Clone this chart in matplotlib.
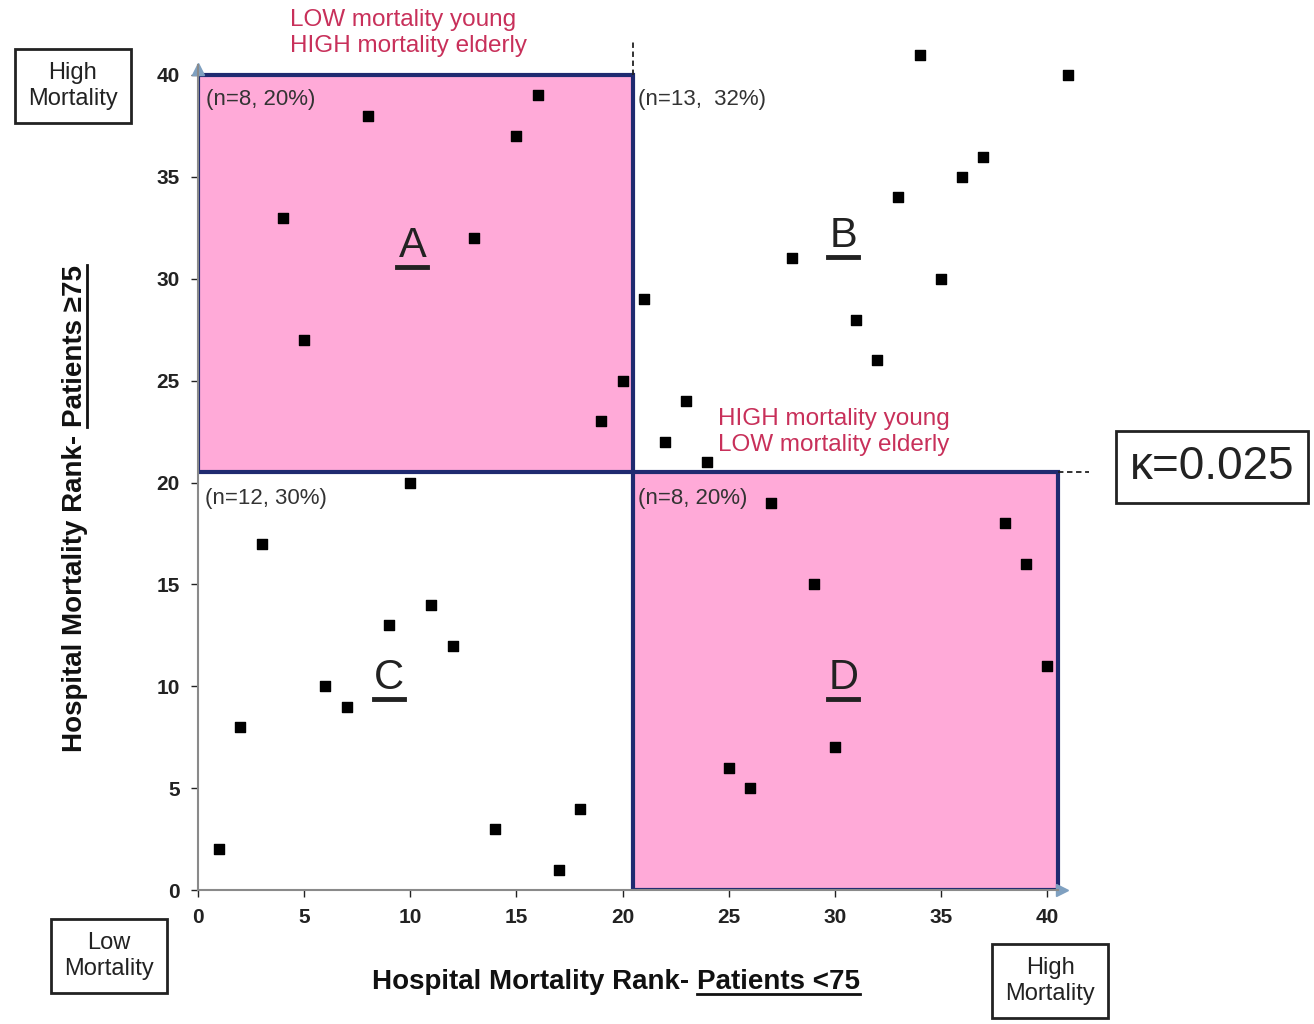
import matplotlib
matplotlib.use("Agg")
import matplotlib.pyplot as plt
from matplotlib.patches import Rectangle
from matplotlib.lines import Line2D

plt.rcParams['font.family'] = ['Liberation Sans', 'DejaVu Sans']

# Data: (rank <75, rank >=75)
x_young = [4, 8, 5, 13, 15, 16, 19, 20,
           21, 22, 23, 24, 28, 31, 32, 33, 34, 35, 36, 37, 41,
           1, 2, 3, 6, 7, 9, 10, 11, 12, 14, 17, 18,
           27, 29, 30, 25, 26, 38, 39, 40]
y_elderly = [33, 38, 27, 32, 37, 39, 23, 25,
             29, 22, 24, 21, 31, 28, 26, 34, 41, 30, 35, 36, 40,
             2, 8, 17, 10, 9, 13, 20, 14, 12, 3, 1, 4,
             19, 15, 7, 6, 5, 18, 16, 11]
ticks = [0, 5, 10, 15, 20, 25, 30, 35, 40]
quadrant_names = ['A', 'B', 'C', 'D']
quadrant_counts = ['(n=8, 20%)', '(n=13,  32%)', '(n=12, 30%)', '(n=8, 20%)']
kappa_text = 'κ=0.025'

W, H = 1314, 1024
fig = plt.figure(figsize=(W / 100, H / 100), dpi=100)
ax = fig.add_axes([198/W, 134/H, 43*21.225/W, 43*20.375/H])
ax.set_xlim(0, 43)
ax.set_ylim(0, 43)

pink = '#FFAAD8'
navy = '#1F2A70'
ax.add_patch(Rectangle((0, 20.5), 20.5, 19.5, facecolor=pink, edgecolor=navy, lw=3, zorder=1))
ax.add_patch(Rectangle((20.5, 0), 20.0, 20.5, facecolor=pink, edgecolor=navy, lw=3, zorder=1))
ax.plot([20.5, 20.5], [40, 41.6], ls=(0, (3, 2)), color='#222222', lw=1.3, clip_on=False)
ax.plot([40.5, 42.0], [20.5, 20.5], ls=(0, (3, 2)), color='#222222', lw=1.3, clip_on=False)

ax.scatter(x_young, y_elderly, marker='s', s=60, color='black', zorder=5, clip_on=False)

for s in ['top', 'right']:
    ax.spines[s].set_visible(False)
for s in ['left', 'bottom']:
    ax.spines[s].set_color('#8a8a8a')
    ax.spines[s].set_linewidth(1.5)
    ax.spines[s].set_bounds(0, 40.5)
ax.plot([40.7], [0], marker='>', color='#7fa0c0', markersize=8, clip_on=False)
ax.plot([0], [40.3], marker='^', color='#7fa0c0', markersize=8, clip_on=False)

ax.set_xticks(ticks)
ax.set_yticks(ticks)
ax.set_xticklabels([str(t) for t in ticks])
ax.set_yticklabels([str(t) for t in ticks])
ax.tick_params(axis='both', labelsize=15, colors='#222222', length=5, width=1, pad=8)
for lbl in ax.get_xticklabels() + ax.get_yticklabels():
    lbl.set_fontweight('bold')

def px(x, y):
    return (x / W, 1 - y / H)

# Axis labels (two parts, second underlined)
xl1 = fig.text(*px(372, 982), 'Hospital Mortality Rank- ', ha='left', va='center',
               fontsize=20, fontweight='bold', color='#111111')
yl1 = fig.text(*px(75, 752), 'Hospital Mortality Rank- ', ha='center', va='bottom',
               fontsize=20, fontweight='bold', color='#111111', rotation=90)

# Quadrant labels
quad_pos = [(10.1, 31.6), (30.4, 32.1), (9.0, 10.4), (30.4, 10.4)]
quad_texts = []
for name, (qx, qy) in zip(quadrant_names, quad_pos):
    quad_texts.append(ax.text(qx, qy, name, fontsize=30, ha='center', va='center',
                              color='#222222', zorder=6))

count_pos = [(0.4, 38.8), (20.75, 38.8), (0.35, 19.2), (20.75, 19.2)]
for txt, (cx, cy) in zip(quadrant_counts, count_pos):
    ax.text(cx, cy, txt, fontsize=16, ha='left', va='center', color='#333333', zorder=6)

red = '#C8305A'
fig.text(*px(290, 33), 'LOW mortality young\nHIGH mortality elderly', fontsize=17.5,
         color=red, ha='left', va='center', linespacing=1.2)
fig.text(*px(718, 432), 'HIGH mortality young\nLOW mortality elderly', fontsize=17.5,
         color=red, ha='left', va='center', linespacing=1.2)

box = dict(boxstyle='square,pad=0.55', facecolor='white', edgecolor='#222222', lw=2)
fig.text(*px(73, 86), 'High\nMortality', fontsize=17, ha='center', va='center',
         color='#222222', bbox=box, linespacing=1.25)
fig.text(*px(109, 956), 'Low\nMortality', fontsize=17, ha='center', va='center',
         color='#222222', bbox=box, linespacing=1.25)
fig.text(*px(1050, 981), 'High\nMortality', fontsize=17, ha='center', va='center',
         color='#222222', bbox=box, linespacing=1.25)
fig.text(*px(1212, 467), kappa_text, fontsize=33, ha='center', va='center',
         color='#222222',
         bbox=dict(boxstyle='square,pad=0.3', facecolor='white', edgecolor='#222222', lw=2))

# Measure and place underlined parts
fig.canvas.draw()
r = fig.canvas.get_renderer()
bb = xl1.get_window_extent(r)
xl2 = fig.text(bb.x1 / W, bb.y0 / H, 'Patients <75', ha='left', va='bottom',
               fontsize=20, fontweight='bold', color='#111111')
bb = yl1.get_window_extent(r)
yl2 = fig.text((bb.x0) / W, bb.y1 / H, 'Patients ≥75', ha='left', va='bottom',
               fontsize=20, fontweight='bold', color='#111111', rotation=90)
fig.canvas.draw()
b2 = xl2.get_window_extent(r)
fig.add_artist(Line2D([b2.x0 / W, b2.x1 / W], [(b2.y0 + 1) / H] * 2, color='#111111', lw=2))
b3 = yl2.get_window_extent(r)
fig.add_artist(Line2D([(b3.x1 - 1) / W] * 2, [b3.y0 / H, b3.y1 / H], color='#111111', lw=2))
for t in quad_texts:
    bq = t.get_window_extent(r)
    cx = (bq.x0 + bq.x1) / 2
    fig.add_artist(Line2D([(cx - 15) / W, (cx + 15) / W], [(bq.y0 - 1) / H] * 2,
                          color='#222222', lw=3.5))

fig.savefig('out.png', dpi=100)
